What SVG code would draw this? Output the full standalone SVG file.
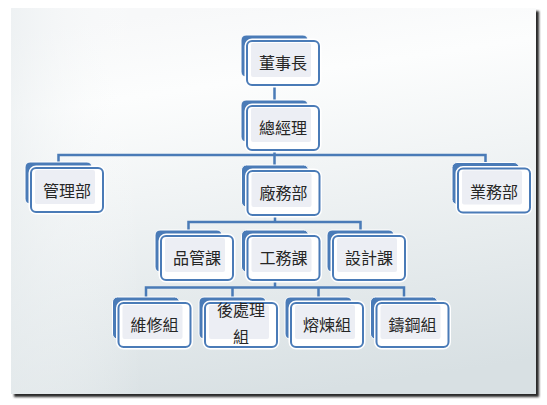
<svg xmlns="http://www.w3.org/2000/svg" xmlns:xlink="http://www.w3.org/1999/xlink" width="547" height="405" viewBox="0 0 547 405">
<defs>
  <linearGradient id="bg" x1="0.35" y1="0" x2="0.55" y2="1">
    <stop offset="0" stop-color="#f7f8f9"/>
    <stop offset="0.2" stop-color="#fcfdfd"/>
    <stop offset="1" stop-color="#d8e0e3"/>
  </linearGradient>
  <linearGradient id="bgl" x1="0" y1="0" x2="1" y2="0">
    <stop offset="0" stop-color="#e8edef" stop-opacity="0.6"/>
    <stop offset="0.25" stop-color="#ffffff" stop-opacity="0"/>
  </linearGradient>
  <filter id="sh" x="-5%" y="-5%" width="110%" height="110%">
    <feGaussianBlur stdDeviation="1.3"/>
  </filter>
  <g id="box">
    <rect x="0" y="0" width="67" height="42" rx="5" fill="#4a7bb7" stroke="#ffffff" stroke-width="1"/>
    <rect x="6" y="6" width="72" height="44" rx="5" fill="none" stroke="#ffffff" stroke-width="5"/>
    <rect x="6" y="6" width="72" height="44" rx="5" fill="#ffffff" stroke="#4a7bb7" stroke-width="2"/>
    <rect x="10" y="8" width="60" height="34" rx="2" fill="#eceef4"/>
  </g>
  <style>
    .conn { fill: none; stroke: #4a7bb7; stroke-width: 2.5; }
    .lbl { font-family: "Noto Sans CJK TC", "Noto Sans CJK SC", sans-serif; font-size: 16px; fill: #262626; text-anchor: middle; }
  </style>
</defs>

<rect x="14" y="11" width="525" height="386" fill="#2a2a2a" filter="url(#sh)"/>
<rect x="11" y="8" width="525" height="386" fill="url(#bg)"/>
<rect x="11" y="8" width="525" height="386" fill="url(#bgl)"/>

<g id="connectors">
  <path class="conn" d="M274.5 80 V101"/>
  <path class="conn" d="M274.5 145 V155 M58.5 163 V155 H485.5 V163 M274.5 155 V166"/>
  <path class="conn" d="M275 212 V222 M188.5 231 V222 H360.5 V231"/>
  <path class="conn" d="M275 276 V287.5 M146 298 V287.5 H404 V298 M232.5 287.5 V298 M318.5 287.5 V298"/>
</g>

<g id="n-dongshizhang" transform="translate(241,35)">
  <use xlink:href="#box"/>
  <text class="lbl" x="42" y="34">董事長</text>
</g>
<g id="n-zongjingli" transform="translate(241,100)">
  <use xlink:href="#box"/>
  <text class="lbl" x="42" y="34">總經理</text>
</g>
<g id="n-guanlibu" transform="translate(25,162)">
  <use xlink:href="#box"/>
  <text class="lbl" x="42" y="35">管理部</text>
</g>
<g id="n-changwubu" transform="translate(241.5,165)">
  <use xlink:href="#box"/>
  <text class="lbl" x="42" y="34">廠務部</text>
</g>
<g id="n-yewubu" transform="translate(452,162.5)">
  <use xlink:href="#box"/>
  <text class="lbl" x="42" y="35">業務部</text>
</g>
<g id="n-pinguanke" transform="translate(155,230)">
  <use xlink:href="#box"/>
  <text class="lbl" x="42" y="34">品管課</text>
</g>
<g id="n-gongwuke" transform="translate(241.5,230)">
  <use xlink:href="#box"/>
  <text class="lbl" x="42" y="34">工務課</text>
</g>
<g id="n-shejike" transform="translate(327,230)">
  <use xlink:href="#box"/>
  <text class="lbl" x="42" y="34">設計課</text>
</g>
<g id="n-weixiuzu" transform="translate(112.5,297)">
  <use xlink:href="#box"/>
  <text class="lbl" x="42" y="34">維修組</text>
</g>
<g id="n-houchulizu" transform="translate(199,297)">
  <use xlink:href="#box"/>
  <text class="lbl" x="42" y="19">後處理</text>
  <text class="lbl" x="42" y="46">組</text>
</g>
<g id="n-ronglianzu" transform="translate(285,297)">
  <use xlink:href="#box"/>
  <text class="lbl" x="42" y="34">熔煉組</text>
</g>
<g id="n-zhugangzu" transform="translate(370.5,297)">
  <use xlink:href="#box"/>
  <text class="lbl" x="42" y="34">鑄鋼組</text>
</g>
</svg>
